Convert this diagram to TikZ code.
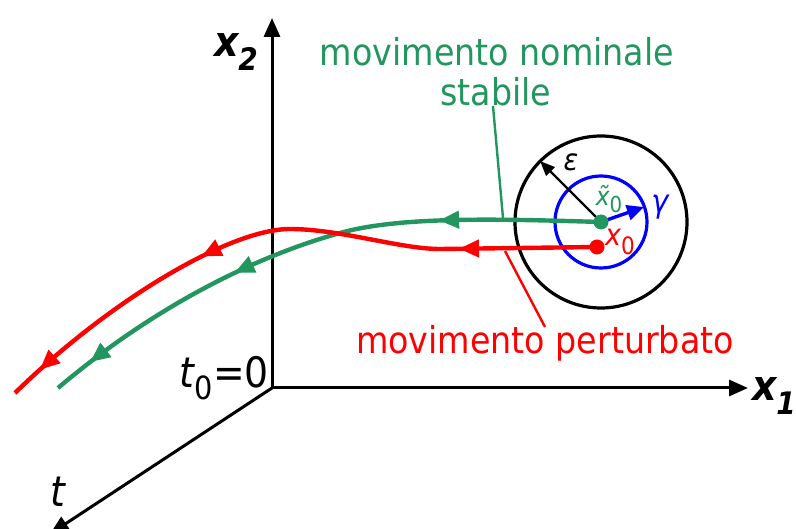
\documentclass[tikz,border=0pt]{standalone}
\usepackage{fontspec}
\usepackage{amsmath}
\setmainfont{DejaVu Sans Condensed}
\usetikzlibrary{arrows.meta,decorations.markings}
\definecolor{nomgreen}{RGB}{34,150,94}
\newcommand{\lowsub}[2]{\raisebox{-#1}{#2}}

\begin{document}
\begin{tikzpicture}[x=1pt,y=-1pt,
    axis/.style={line width=3pt,-{Triangle[length=19pt,width=16pt]}},
    traj/.style={line width=4.4pt,postaction={decorate}},
    head/.tip={Triangle[length=20pt,width=17pt]},
    nommarks/.style={decoration={markings,
        mark=at position 162pt with {\arrow{head}},
        mark=at position 375pt with {\arrow{head}},
        mark=at position 545pt with {\arrow{head}}}},
    pertmarks/.style={decoration={markings,
        mark=at position 138pt with {\arrow{head}},
        mark=at position 402pt with {\arrow{head}},
        mark=at position 600pt with {\arrow{head}}}},
    callout/.style={line width=2.4pt},
    ring/.style={line width=3.2pt},
    dot/.style={circle,fill,inner sep=0pt,minimum size=15pt},
    txt/.style={font=\fontsize{37}{40}\selectfont,inner sep=0pt,align=center},
    axlbl/.style={font=\fontsize{42}{46}\selectfont,inner sep=0pt}]
  \useasboundingbox (0,0) rectangle (796,529);
  % axes
  \coordinate (O) at (272,388);
  \coordinate (x1end) at (748,388);
  \coordinate (x2end) at (272,18);
  \coordinate (tend) at (50,534);
  \draw[axis] (O) -- (x1end);
  \draw[axis] (O) -- (x2end);
  \draw[axis] (O) -- (tend);
  \node[axlbl] (lx1) at (774,396) {\bfseries\itshape x\lowsub{0.35em}{\fontsize{31}{34}\selectfont 1}};
  \node[axlbl] (lx2) at (236,52) {\bfseries\itshape x\lowsub{0.35em}{\fontsize{31}{34}\selectfont 2}};
  \node[axlbl] (lt) at (58,492) {\itshape t};
  \node[axlbl,anchor=east] (lt0) at (269,378) {{\itshape t}\lowsub{0.3em}{\fontsize{32}{34}\selectfont 0}=0};
  % neighbourhoods around the initial state
  \coordinate (c) at (601,222);
  \draw[ring] (c) circle[radius=86];
  \draw[ring,blue] (c) circle[radius=46];
  \coordinate (eps) at (540,161);
  \coordinate (gam) at (644,207);
  \draw[line width=2.4pt,-{Triangle[length=15pt,width=12pt]}] (c) -- (eps);
  \draw[line width=3.4pt,blue,-{Triangle[length=17pt,width=15pt]}] (c) -- (gam);
  \node[inner sep=0pt,font=\fontsize{30}{32}\selectfont] (leps) at (571,162) {\itshape ε};
  \node[blue,inner sep=0pt,font=\fontsize{32}{34}\selectfont] (lgam) at (660,207) {\itshape γ};
  % trajectories
  \draw[traj,nomgreen,nommarks] (c) .. controls (500,219) and (400,216) .. (340,233)
    .. controls (250,258) and (150,310) .. (58,388);
  \draw[traj,red,pertmarks] (597,247) -- (440,249) .. controls (400,249) and (340,229) .. (290,229)
    .. controls (230,229) and (110,300) .. (15,393);
  \node[dot,nomgreen] (g0) at (c) {};
  \node[dot,red] (r0) at (597,247) {};
  \node[nomgreen,inner sep=0pt,font=\fontsize{26}{30}\selectfont] (lg0) at (609,199) {\itshape\~x\lowsub{0.3em}{\upshape\fontsize{22}{25}\selectfont 0}};
  \node[red,inner sep=0pt,font=\fontsize{30}{32}\selectfont] (lr0) at (620,242) {\itshape x\lowsub{0.3em}{\upshape\fontsize{24}{26}\selectfont 0}};
  % labels
  \node[txt,nomgreen] (nom) at (497,52) {movimento nominale};
  \node[txt,nomgreen] (stab) at (496,92) {stabile};
  \node[txt,red] (pert) at (545,343) {movimento perturbato};
  \coordinate (nomfoot) at (493,106);
  \coordinate (nomtip) at (503,218);
  \coordinate (pertfoot) at (505,251);
  \coordinate (perthead) at (545,327);
  \draw[callout,nomgreen] (nomfoot) -- (nomtip);
  \draw[callout,red] (pertfoot) -- (perthead);
\end{tikzpicture}
\end{document}
